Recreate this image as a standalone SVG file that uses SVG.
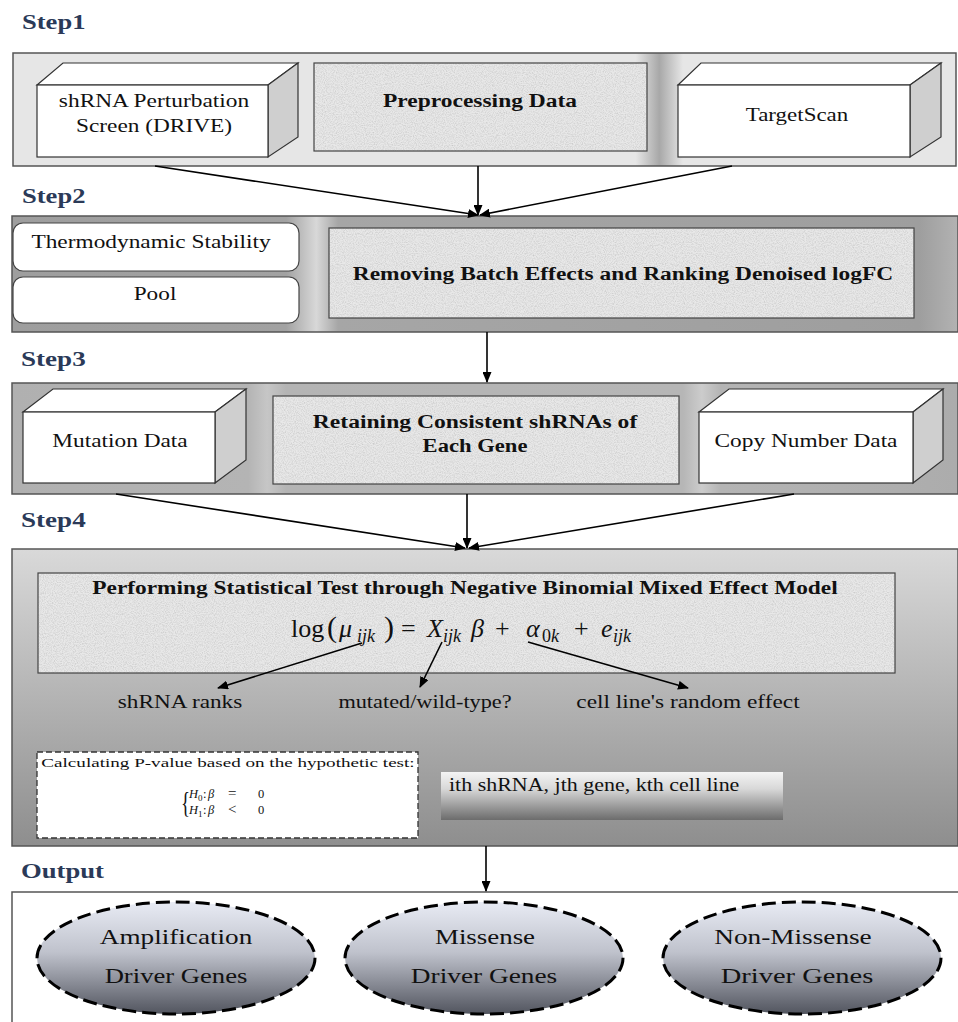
<svg xmlns="http://www.w3.org/2000/svg" width="958" height="1022" viewBox="0 0 958 1022">
<style>
.step{font-family:"Liberation Serif","Times New Roman",serif;font-weight:bold;font-size:21px;fill:#2b3a58}
.t{font-family:"Liberation Serif","Times New Roman",serif;fill:#111}
.b{font-weight:bold}
.i{font-style:italic}
.f13{font-size:13.5px}
.f18{font-size:18px}
.f19{font-size:19px}
.f22{font-size:22px}
.f25{font-size:26px}
.panel{stroke:#555;stroke-width:1.5}
.front{fill:#fff;stroke:#333;stroke-width:1.2}
.side{fill:#cfcfcf;stroke:#333;stroke-width:1.2}
.texs{fill:none;stroke:#444;stroke-width:1.2}
.round{fill:#fff;stroke:#444;stroke-width:1.2}
.conn{stroke:#000;stroke-width:1.6;fill:none;marker-end:url(#ah)}
.ell{fill:url(#ellg);stroke:#000;stroke-width:3;stroke-dasharray:14 6}
</style>
<defs>
<marker id="ah" markerUnits="userSpaceOnUse" markerWidth="11" markerHeight="9" refX="10" refY="4.5" orient="auto">
<path d="M0,0 L11,4.5 L0,9 z" fill="#000"/>
</marker>
<filter id="tex" x="0" y="0" width="1" height="1">
<feTurbulence type="fractalNoise" baseFrequency="0.9" numOctaves="2" seed="7" result="n"/>
<feColorMatrix in="n" type="matrix" values="0 0 0 0 0.55 0 0 0 0 0.55 0 0 0 0 0.55 1.6 0 0 0 -0.6" result="s"/>
<feComposite in="s" in2="SourceGraphic" operator="in" result="s2"/>
<feMerge><feMergeNode in="SourceGraphic"/><feMergeNode in="s2"/></feMerge>
</filter>
<linearGradient id="g1" gradientUnits="userSpaceOnUse" x1="12" y1="0" x2="957" y2="0">
<stop offset="0" stop-color="#e6e6e6"/><stop offset="0.66" stop-color="#e6e6e6"/><stop offset="0.685" stop-color="#a8a8a8"/><stop offset="0.71" stop-color="#e6e6e6"/><stop offset="1" stop-color="#e6e6e6"/>
</linearGradient>
<linearGradient id="g2" gradientUnits="userSpaceOnUse" x1="12" y1="0" x2="957" y2="0">
<stop offset="0" stop-color="#9e9e9e"/><stop offset="0.29" stop-color="#a2a2a2"/><stop offset="0.322" stop-color="#d8d8d8"/><stop offset="0.345" stop-color="#a6a6a6"/><stop offset="0.96" stop-color="#9e9e9e"/><stop offset="1" stop-color="#b2b2b2"/>
</linearGradient>
<linearGradient id="g3" gradientUnits="userSpaceOnUse" x1="12" y1="0" x2="957" y2="0">
<stop offset="0" stop-color="#b0b0b0"/><stop offset="0.25" stop-color="#b4b4b4"/><stop offset="0.27" stop-color="#c6c6c6"/><stop offset="0.29" stop-color="#b4b4b4"/><stop offset="0.71" stop-color="#b6b6b6"/><stop offset="0.73" stop-color="#cccccc"/><stop offset="0.75" stop-color="#b4b4b4"/><stop offset="1" stop-color="#acacac"/>
</linearGradient>
<linearGradient id="g4" x1="0" y1="0" x2="0" y2="1">
<stop offset="0" stop-color="#d9d9d9"/><stop offset="1" stop-color="#8e8e8e"/>
</linearGradient>
<linearGradient id="gith" x1="0" y1="0" x2="0" y2="1">
<stop offset="0" stop-color="#f4f4f4"/><stop offset="0.35" stop-color="#d8d8d8"/><stop offset="1" stop-color="#6c6c6c"/>
</linearGradient>
<linearGradient id="ellg" x1="0" y1="0" x2="0" y2="1">
<stop offset="0" stop-color="#e8ebf4"/><stop offset="0.45" stop-color="#bfc2cc"/><stop offset="1" stop-color="#52555f"/>
</linearGradient>
</defs>

<rect width="958" height="1022" fill="#fff"/>

<!-- Panels -->
<g id="step1">
<text class="step" transform="translate(22,29) scale(1.22,1)" textLength="52" lengthAdjust="spacingAndGlyphs">Step1</text>
<rect class="panel" x="13" y="53" width="943" height="113" fill="url(#g1)"/>
</g>
<g id="step2">
<text class="step" transform="translate(22,203) scale(1.22,1)" textLength="52" lengthAdjust="spacingAndGlyphs">Step2</text>
<rect class="panel" x="12" y="216" width="946" height="116" fill="url(#g2)"/>
</g>
<g id="step3">
<text class="step" transform="translate(21,366) scale(1.22,1)" textLength="53" lengthAdjust="spacingAndGlyphs">Step3</text>
<rect class="panel" x="12" y="383" width="946" height="111" fill="url(#g3)"/>
</g>
<g id="step4">
<text class="step" transform="translate(21,527) scale(1.22,1)" textLength="53" lengthAdjust="spacingAndGlyphs">Step4</text>
<rect class="panel" x="12" y="549" width="946" height="297" fill="url(#g4)"/>
</g>
<g id="output">
<text class="step" transform="translate(21,878) scale(1.22,1)" textLength="68" lengthAdjust="spacingAndGlyphs">Output</text>
<rect class="panel" x="12" y="892" width="947" height="140" fill="#fff"/>
</g>

<!-- Step1 nodes -->
<g id="shrna">
<polygon class="front" points="37,85 63,63 298,63 268,85"/>
<polygon class="side" points="268,85 298,63 298,137 268,157"/>
<rect class="front" x="37" y="85" width="231" height="72"/>
<text class="t f19" transform="translate(154,107) scale(1.22,1)" text-anchor="middle" textLength="156" lengthAdjust="spacingAndGlyphs">shRNA Perturbation</text>
<text class="t f19" transform="translate(154,132) scale(1.22,1)" text-anchor="middle" textLength="128" lengthAdjust="spacingAndGlyphs">Screen (DRIVE)</text>
</g>
<g id="preprocessing">
<rect x="314" y="63" width="333" height="88" fill="#e8e8e8" filter="url(#tex)"/>
<rect class="texs" x="314" y="63" width="333" height="88"/>
<text class="t f19 b" transform="translate(480,107) scale(1.22,1)" text-anchor="middle" textLength="159" lengthAdjust="spacingAndGlyphs">Preprocessing Data</text>
</g>
<g id="targetscan">
<polygon class="front" points="678,85 701,63 941,63 910,85"/>
<polygon class="side" points="910,85 941,63 941,137 910,157"/>
<rect class="front" x="678" y="85" width="232" height="72"/>
<text class="t f19" transform="translate(797,121) scale(1.22,1)" text-anchor="middle" textLength="84" lengthAdjust="spacingAndGlyphs">TargetScan</text>
</g>

<!-- Step2 nodes -->
<g id="thermo">
<rect class="round" x="13" y="223" width="286" height="48" rx="10"/>
<text class="t f19" transform="translate(151,248) scale(1.22,1)" text-anchor="middle" textLength="196" lengthAdjust="spacingAndGlyphs">Thermodynamic Stability</text>
</g>
<g id="pool">
<rect class="round" x="13" y="277" width="286" height="46" rx="10"/>
<text class="t f19" transform="translate(155,300) scale(1.22,1)" text-anchor="middle" textLength="35" lengthAdjust="spacingAndGlyphs">Pool</text>
</g>
<g id="removing">
<rect x="329" y="228" width="585" height="90" fill="#e8e8e8" filter="url(#tex)"/>
<rect class="texs" x="329" y="228" width="585" height="90"/>
<text class="t f19 b" transform="translate(623,280) scale(1.22,1)" text-anchor="middle" textLength="443" lengthAdjust="spacingAndGlyphs">Removing Batch Effects and Ranking Denoised logFC</text>
</g>

<!-- Step3 nodes -->
<g id="mutation">
<polygon class="front" points="23,412 53,389 246,389 215,412"/>
<polygon class="side" points="215,412 246,389 246,460 215,483"/>
<rect class="front" x="23" y="412" width="192" height="71"/>
<text class="t f19" transform="translate(120,447) scale(1.22,1)" text-anchor="middle" textLength="111" lengthAdjust="spacingAndGlyphs">Mutation Data</text>
</g>
<g id="retaining">
<rect x="273" y="396" width="406" height="88" fill="#e8e8e8" filter="url(#tex)"/>
<rect class="texs" x="273" y="396" width="406" height="88"/>
<text class="t f19 b" transform="translate(475,428) scale(1.22,1)" text-anchor="middle" textLength="266" lengthAdjust="spacingAndGlyphs">Retaining Consistent shRNAs of</text>
<text class="t f19 b" transform="translate(475,452) scale(1.22,1)" text-anchor="middle" textLength="86" lengthAdjust="spacingAndGlyphs">Each Gene</text>
</g>
<g id="copynumber">
<polygon class="front" points="699,412 729,389 943,389 913,412"/>
<polygon class="side" points="913,412 943,389 943,460 913,483"/>
<rect class="front" x="699" y="412" width="214" height="71"/>
<text class="t f19" transform="translate(806,447) scale(1.22,1)" text-anchor="middle" textLength="150" lengthAdjust="spacingAndGlyphs">Copy Number Data</text>
</g>

<!-- Step4 nodes -->
<g id="model">
<rect x="38" y="573" width="857" height="100" fill="#e8e8e8" filter="url(#tex)"/>
<rect class="texs" x="38" y="573" width="857" height="100"/>
<text class="t f18 b" transform="translate(465,594) scale(1.22,1)" text-anchor="middle" textLength="611" lengthAdjust="spacingAndGlyphs">Performing Statistical Test through Negative Binomial Mixed Effect Model</text>
<text class="t f25" y="637"><tspan x="291">log</tspan><tspan x="327" style="font-size:30px">(</tspan><tspan x="339" class="i">μ</tspan><tspan x="357" y="642" class="i f18">ijk</tspan><tspan x="384" y="637" style="font-size:30px">)</tspan><tspan x="401">=</tspan><tspan x="427" class="i">X</tspan><tspan x="443" y="642" class="i f18">ijk</tspan><tspan x="471" y="637" class="i">β</tspan><tspan x="495">+</tspan><tspan x="526" class="i">α</tspan><tspan x="542" y="642" class="f18">0</tspan><tspan x="551" class="i f18">k</tspan><tspan x="574" y="637">+</tspan><tspan x="601" class="i">e</tspan><tspan x="613" y="642" class="i f18">ijk</tspan></text>
</g>
<g id="lbl-ranks"><text class="t f18" transform="translate(180,708) scale(1.22,1)" text-anchor="middle" textLength="102" lengthAdjust="spacingAndGlyphs">shRNA ranks</text></g>
<g id="lbl-mut"><text class="t f18" transform="translate(425,708) scale(1.22,1)" text-anchor="middle" textLength="142" lengthAdjust="spacingAndGlyphs">mutated/wild-type?</text></g>
<g id="lbl-cell"><text class="t f18" transform="translate(688,708) scale(1.22,1)" text-anchor="middle" textLength="183" lengthAdjust="spacingAndGlyphs">cell line's random effect</text></g>
<g id="pvalue">
<rect x="37" y="752" width="381" height="86" fill="#fff" stroke="#333" stroke-width="1.3" stroke-dasharray="6 3"/>
<text class="t f13" transform="translate(228,767) scale(1.22,1)" text-anchor="middle" textLength="306" lengthAdjust="spacingAndGlyphs">Calculating P-value based on the hypothetic test:</text>
<text class="t" transform="translate(181,812) scale(0.65,1)" style="font-size:29px">{</text>
<text class="t" y="798" style="font-size:12.5px"><tspan x="189" class="i">H</tspan><tspan x="198" y="801" style="font-size:9px">0</tspan><tspan x="203" y="798">:</tspan><tspan x="208" class="i">β</tspan><tspan x="228" style="font-size:15px">=</tspan><tspan x="258">0</tspan></text>
<text class="t" y="814" style="font-size:12.5px"><tspan x="189" class="i">H</tspan><tspan x="198" y="817" style="font-size:9px">1</tspan><tspan x="203" y="814">:</tspan><tspan x="208" class="i">β</tspan><tspan x="228" style="font-size:15px">&lt;</tspan><tspan x="258">0</tspan></text>
</g>
<g id="indices">
<rect x="441" y="772" width="342" height="48" fill="url(#gith)"/>
<text class="t f18" transform="translate(449,791) scale(1.22,1)" textLength="238" lengthAdjust="spacingAndGlyphs">ith shRNA, jth gene, kth cell line</text>
</g>

<!-- Output nodes -->
<g id="amplification">
<ellipse class="ell" cx="176" cy="958" rx="139" ry="56"/>
<text class="t f22" transform="translate(176,944) scale(1.22,1)" text-anchor="middle" textLength="125" lengthAdjust="spacingAndGlyphs">Amplification</text>
<text class="t f22" transform="translate(176,983) scale(1.22,1)" text-anchor="middle" textLength="117" lengthAdjust="spacingAndGlyphs">Driver Genes</text>
</g>
<g id="missense">
<ellipse class="ell" cx="484" cy="958" rx="139" ry="56"/>
<text class="t f22" transform="translate(485,944) scale(1.22,1)" text-anchor="middle" textLength="82" lengthAdjust="spacingAndGlyphs">Missense</text>
<text class="t f22" transform="translate(484,983) scale(1.22,1)" text-anchor="middle" textLength="120" lengthAdjust="spacingAndGlyphs">Driver Genes</text>
</g>
<g id="nonmissense">
<ellipse class="ell" cx="802" cy="958" rx="139" ry="56"/>
<text class="t f22" transform="translate(793,944) scale(1.22,1)" text-anchor="middle" textLength="129" lengthAdjust="spacingAndGlyphs">Non-Missense</text>
<text class="t f22" transform="translate(797,983) scale(1.22,1)" text-anchor="middle" textLength="125" lengthAdjust="spacingAndGlyphs">Driver Genes</text>
</g>

<!-- Connectors -->
<g id="connectors">
<line class="conn" x1="155" y1="166" x2="478" y2="215"/>
<line class="conn" x1="478" y1="166" x2="478" y2="215"/>
<line class="conn" x1="732" y1="166" x2="480" y2="215"/>
<line class="conn" x1="487" y1="332" x2="487" y2="382"/>
<line class="conn" x1="116" y1="494" x2="465" y2="548"/>
<line class="conn" x1="467" y1="494" x2="467" y2="548"/>
<line class="conn" x1="794" y1="494" x2="469" y2="548"/>
<line class="conn" x1="362" y1="643" x2="218" y2="688"/>
<line class="conn" x1="442" y1="642" x2="420" y2="687"/>
<line class="conn" x1="528" y1="642" x2="688" y2="688"/>
<line class="conn" x1="486" y1="846" x2="486" y2="891"/>
</g>
</svg>
